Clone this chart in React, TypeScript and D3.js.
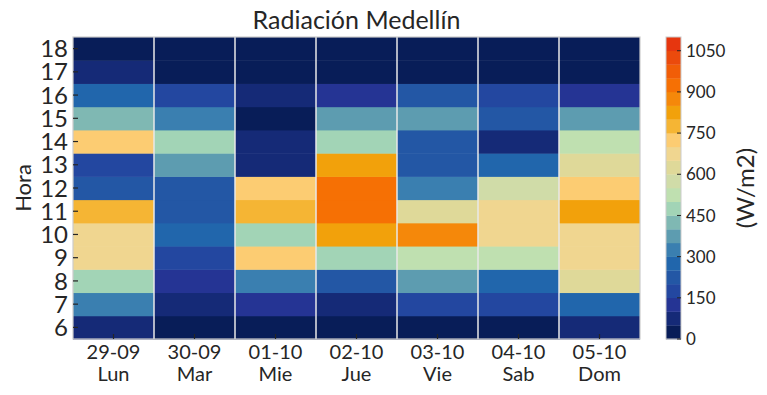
import React from "react";
import * as d3 from "d3";

const dates = ["29-09", "30-09", "01-10", "02-10", "03-10", "04-10", "05-10"];
const days = ["Lun", "Mar", "Mie", "Jue", "Vie", "Sab", "Dom"];
const hours = [6, 7, 8, 9, 10, 11, 12, 13, 14, 15, 16, 17, 18];

// values per day, hours 6..18 (W/m2)
const lun = [75, 325, 475, 675, 675, 775, 225, 175, 725, 425, 275, 75, 25];
const mar = [25, 75, 125, 175, 275, 225, 225, 375, 475, 325, 175, 25, 25];
const mie = [25, 125, 325, 725, 475, 775, 725, 75, 75, 25, 75, 25, 25];
const jue = [25, 75, 225, 475, 825, 925, 925, 825, 475, 375, 125, 25, 25];
const vie = [25, 175, 375, 525, 875, 625, 325, 225, 225, 375, 225, 25, 25];
const sab = [25, 175, 275, 525, 675, 675, 575, 275, 75, 225, 175, 25, 25];
const dom = [75, 275, 625, 675, 675, 825, 725, 625, 525, 375, 125, 25, 25];
const series = [lun, mar, mie, jue, vie, sab, dom];

const cbTicks = [0, 150, 300, 450, 600, 750, 900, 1050];
const binColors = [
  "#081d58", "#152a77", "#253494", "#2347a0", "#2357a5", "#2166ac",
  "#3a7fb0", "#5d9cb0", "#7fb8b3", "#a2d4b6", "#bfe0b0", "#d0dca8",
  "#dfd999", "#f0d690", "#fccc72", "#f5b534", "#f2a10b", "#f5880a",
  "#f67004", "#f15d07", "#eb4a0c", "#e6360f",
];
const vmax = 1100;
const step = 50;

export default function App() {
  const W = 767, H = 395;
  const left = 73, right = 640, top = 37, bottom = 339;
  const font = "Lato, 'DejaVu Sans', sans-serif";
  const txt = "#262626";

  const x = d3.scaleBand<number>().domain(d3.range(days.length)).range([left, right]);
  const y = d3.scaleBand<number>().domain(hours.slice().reverse()).range([top, bottom]);
  const color = d3.scaleQuantize<string>().domain([0, vmax]).range(binColors);

  const cbL = 666, cbR = 681;
  const cy = d3.scaleLinear().domain([0, vmax]).range([bottom, top]);
  const bins = d3.range(0, vmax, step);

  return (
    <svg width={W} height={H} style={{ position: "absolute", left: 0, top: 0, background: "#fff" }}>
      <text x={(left + right) / 2} y={29} textAnchor="middle" fontFamily={font} fontSize={25} fill={txt}>
        Radiación Medellín
      </text>
      {series.map((vals, di) =>
        vals.map((v, hi) => (
          <rect
            key={`${di}-${hi}`}
            x={x(di)}
            y={y(hours[hi])}
            width={x.bandwidth()}
            height={y.bandwidth() + 0.5}
            fill={color(v)}
          />
        ))
      )}
      {d3.range(1, days.length).map((i) => (
        <line key={i} x1={x(i)} x2={x(i)} y1={top} y2={bottom} stroke="#e8e8e8" strokeWidth={1.5} />
      ))}
      <rect x={left} y={top} width={right - left} height={bottom - top} fill="none" stroke="#cccccc" strokeWidth={1.2} />
      {hours.map((h) => {
        const yc = (y(h) as number) + y.bandwidth() / 2;
        return (
          <g key={h}>
            <line x1={left} x2={left + 5} y1={yc} y2={yc} stroke="#262626" strokeWidth={1.2} />
            <text x={68} y={yc} dy="0.36em" textAnchor="end" fontFamily={font} fontSize={24} fill={txt}>
              {h}
            </text>
          </g>
        );
      })}
      {days.map((d, i) => {
        const xc = (x(i) as number) + x.bandwidth() / 2;
        return (
          <g key={d}>
            <line x1={xc} x2={xc} y1={bottom} y2={bottom - 5} stroke="#262626" strokeWidth={1.2} />
            <text x={xc} y={359} textAnchor="middle" fontFamily={font} fontSize={20} fill={txt}>
              {dates[i]}
            </text>
            <text x={xc} y={381} textAnchor="middle" fontFamily={font} fontSize={20} fill={txt}>
              {d}
            </text>
          </g>
        );
      })}
      <text
        transform={`translate(23,${(top + bottom) / 2}) rotate(-90)`}
        textAnchor="middle"
        dy="0.36em"
        fontFamily={font}
        fontSize={22}
        fill={txt}
      >
        Hora
      </text>
      {bins.map((b, i) => (
        <rect key={b} x={cbL} y={cy(b + step)} width={cbR - cbL} height={cy(b) - cy(b + step) + 0.3} fill={binColors[i]} />
      ))}
      <rect x={cbL} y={top} width={cbR - cbL} height={bottom - top} fill="none" stroke="#cccccc" strokeWidth={1} />
      {cbTicks.map((t) => (
        <g key={t}>
          <line x1={cbR - 4} x2={cbR} y1={cy(t)} y2={cy(t)} stroke="#262626" strokeWidth={1} />
          <text x={686} y={cy(t)} dy="0.36em" fontFamily={font} fontSize={17} fill={txt}>
            {t}
          </text>
        </g>
      ))}
      <text
        transform={`translate(745,${(top + bottom) / 2}) rotate(-90)`}
        textAnchor="middle"
        dy="0.36em"
        fontFamily={font}
        fontSize={24}
        fill={txt}
      >
        (W/m2)
      </text>
    </svg>
  );
}
